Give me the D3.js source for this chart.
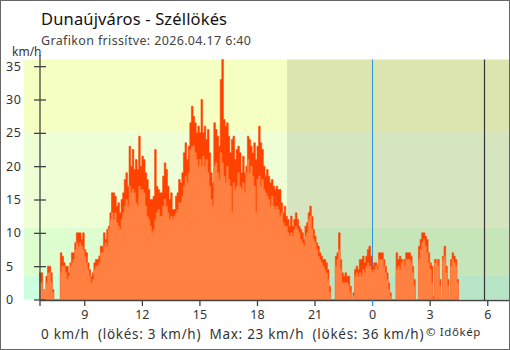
<!DOCTYPE html>
<html><head><meta charset="utf-8">
<script src="https://cdn.jsdelivr.net/npm/d3@7"></script>
<style>body{margin:0;background:#fff}svg{display:block}text{font-family:"Noto Sans",sans-serif}</style>
</head><body><svg id="c" width="510" height="350"></svg>
<script>
// ---- data (5-minute samples starting 2026-04-16 06:40) ----
const startTime = new Date(2026, 3, 16, 6, 40);
const stepMinutes = 5;
const avgWind = [
 2.5,2.5,1.5,0,
 2.5,4,4,2.5,1,0,0,0,0,4,5,5,
 4,3,3.5,5,5.5,6,7.5,8.5,8,8.5,8,7.5,
 6.5,5.5,4.5,3.5,2.5,3,4.5,5,5,5.5,7,7,
 8,8.5,8,10.5,12,13,12,13,11.5,11,10.5,12,
 13,14,15,14,17,16,16.5,16,14.5,14,17,16.5,
 16.5,16,14,12.5,12,11,10,10.5,12,13,13.5,12.5,
 12.5,14,15,14,13,12,12.5,12,12.5,13,13.5,14.5,
 14.5,15.5,17,18.5,17.5,19,22.5,23,23,22,21,20,
 21,20,21.5,20,21,19,17,15,14,20,20.5,19,
 18,22,20.5,18.5,17.5,20,18,17,13,17.5,16.5,17,
 19,17,16.5,17.5,16,19,21,19,20,18.5,17,13,
 18,18.5,17,18,16.5,16,15.5,15,14,15.5,14,13.5,
 14,13.5,12.5,13,11.5,11,11,10,9.5,10,9.5,10.5,
 11,10.5,10,9,8.5,8,9.5,10,12,12.5,10.5,9,
 8.5,7.5,6.5,6,5.5,5,4.5,4,3,1,0,0,
 0,5,6,7.5,4.5,2.5,2.5,2.5,2.5,2,1,0,
 0.5,3.5,4,3.5,4,3.5,4.5,4,5,5.5,5,4.5,
 4,4.5,5,4.5,6,6,6,5,4,3,1.5,0.5,
 0,0,0,4.5,5,4.5,5.5,6,5,6,6,6,
 5.5,4,2,0,0,6,7.5,8.5,9,8,7,5.5,
 4.5,2.5,0,5.5,6,5,2,0,6,6.5,4,2,
 0,5,6,5.5,5,2.5
];
const gustWind = [
 4,4,1.5,0,
 3.5,5,5,4,1.5,0,0,0,0,7,6.5,5.5,
 5,5,4,5.5,7,7,8.5,10,10,10,9,10,
 7.5,7,5.5,4.5,3.5,4,5.5,6,6,6.5,8,8,
 10,9,10.5,11,13,16,16,15.5,14,14.5,13,15,
 16,18,19,17,23,20,22.5,19.5,21,19.5,24.5,20,
 21.5,21,19,18,16.5,15,15,15.5,22.5,17,16.5,16,
 16,18.5,20.5,19.5,17,15,16,13.5,13.5,15.5,16,18,
 17.5,19,22,23.5,21,23,26.5,29,27.5,26.5,25,26,
 25,30,25,26,24,25.5,22,19,17.5,26.5,25.5,24.5,
 23,33,36,27,26,26.5,24.5,22,24,24.5,21,22.5,
 23,22,19,21.5,19,20,24.5,24,23,22,23.5,21,
 23,26,23.5,22.5,20,18.5,19.5,18.5,17.5,18,17,16.5,
 17,16.5,16.5,14.5,13,14,12.5,12,11,12.5,11,12,
 13,12,11,10.5,10,9,11,11.5,13,14,12.5,10.5,
 9.5,8.5,8,7,6.5,6,6,5.5,4.5,2,0,0,
 0,6.5,7,10,6,4,3.5,4,3.5,3.5,2,0,
 1,4.5,5,4.5,6,6,6.5,5.5,6.5,7.5,8,6.5,
 5,5.5,5.5,5,7,7,7,6,5,4,2.5,1,
 0,0,0,7,6,6.5,6,6,6,7,7,7,
 6.5,5,3,0,0,8,9,10,10,9.5,9,7,
 5.5,5,0.5,6,6,6,3,0,6.5,8,5,3,
 0,6,7,6.5,6,3
];
const yTicks = [0,5,10,15,20,25,30,35];
const bandLimits = [0, 3.6, 10.8, 25.2, 36];
const bandColors = ["#ccffdd","#ddffcf","#eeffd6","#f6ffc2"];
const domainStart = new Date(2026,3,16,6,40), domainEnd = new Date(2026,3,17,7,8);
const sunset = new Date(2026,3,16,19,34), midnight = new Date(2026,3,17,0,0), marker = new Date(2026,3,17,5,51);
const titleText = "Dunaújváros - Széllökés";
const subtitleText = "Grafikon frissítve: 2026.04.17 6:40";
const footerText = "0 km/h  (lökés: 3 km/h)  Max: 23 km/h  (lökés: 36 km/h)";

// ---- drawing ----
const svg = d3.select("#c");
const x = d3.scaleTime().domain([domainStart, domainEnd]).range([39.5, 509]);
const y = d3.scaleLinear().domain([0, 36]).range([299.5, 59.5]);
const plotLeft = 24, plotRight = 509;

svg.append("g").selectAll("rect").data(bandColors).join("rect")
  .attr("x", plotLeft).attr("width", plotRight - plotLeft)
  .attr("y", (d,i) => y(bandLimits[i+1])).attr("height", (d,i) => y(bandLimits[i]) - y(bandLimits[i+1]))
  .attr("fill", d => d);
svg.append("rect").attr("x", x(sunset)).attr("width", plotRight - x(sunset))
  .attr("y", y(36)).attr("height", y(0) - y(36)).attr("fill", "#000").attr("opacity", 0.1);

svg.append("line").attr("x1", Math.round(x(midnight))+0.5).attr("x2", Math.round(x(midnight))+0.5)
  .attr("y1", y(36)).attr("y2", 306).attr("stroke", "#2b95e0").attr("stroke-width", 1);

const mk = arr => { const pts = arr.map((v,i) => ({t: d3.timeMinute.offset(startTime, i*stepMinutes), v}));
  pts.push({t: d3.timeMinute.offset(startTime, arr.length*stepMinutes), v: arr[arr.length-1]}); return pts; };
const area = d3.area().curve(d3.curveStepAfter).x(d => x(d.t)).y0(y(0)).y1(d => y(d.v));
svg.append("path").datum(mk(gustWind)).attr("d", area).attr("fill", "#ff4200").attr("stroke","#ff4200").attr("stroke-width",0.6);
svg.append("path").datum(mk(avgWind)).attr("d", area).attr("fill", "#ff8040").attr("stroke","#ff8040").attr("stroke-width",0.6);

svg.append("line").attr("x1", Math.round(x(marker))+0.5).attr("x2", Math.round(x(marker))+0.5)
  .attr("y1", y(36)).attr("y2", 300).attr("stroke", "#333").attr("stroke-width", 1.2);

// axes
const axisColor = "#444";
const xAxis = svg.append("g").attr("transform", "translate(0,300)")
  .call(d3.axisBottom(x).ticks(d3.timeHour.every(3)).tickFormat(d3.timeFormat("%-H")).tickSize(6).tickSizeOuter(0));
xAxis.select(".domain").attr("stroke", axisColor).attr("stroke-width", 1.3);
xAxis.selectAll(".tick line").attr("stroke", d => +d === +midnight ? "#2b95e0" : axisColor).attr("stroke-width", 1.3);
xAxis.selectAll(".tick text").attr("fill", "#333").attr("font-size", 12.5).attr("font-family", "Noto Sans").attr("dy", null).attr("y", 19);

svg.append("line").attr("x1", 40).attr("x2", 40).attr("y1", 55).attr("y2", 306).attr("stroke", axisColor).attr("stroke-width", 1.3);
const yAxis = svg.append("g").attr("transform", "translate(46,0)")
  .call(d3.axisLeft(y).tickValues(yTicks).tickSize(12));
yAxis.select(".domain").remove();
yAxis.selectAll(".tick line").attr("stroke", axisColor).attr("stroke-width", 1.3);
yAxis.selectAll(".tick text").attr("x", -40).attr("text-anchor", "start").attr("fill", "#333")
  .attr("font-size", 12.5).attr("font-family", "Noto Sans").attr("letter-spacing", 0.6);

// texts
svg.append("text").attr("x", 41).attr("y", 24.5).attr("font-size", 16.5).attr("fill", "#111").attr("letter-spacing", 0.15).text(titleText);
svg.append("text").attr("x", 41).attr("y", 45).attr("font-size", 12.5).attr("fill", "#444").attr("letter-spacing", 0.35).text(subtitleText);
svg.append("text").attr("x", 12).attr("y", 55.5).attr("font-size", 12).attr("fill", "#333").text("km/h");
svg.append("text").attr("x", 41).attr("y", 338.5).attr("font-size", 13.5).attr("fill", "#333").attr("letter-spacing", 0.7)
  .attr("xml:space","preserve").style("white-space","pre").text(footerText);
svg.append("text").attr("x", 426).attr("y", 336).attr("font-size", 11.5).attr("fill", "#333").attr("letter-spacing", 0.6).text("© Időkép");

svg.append("rect").attr("x", 0.5).attr("y", 0.5).attr("width", 509).attr("height", 349)
  .attr("fill", "none").attr("stroke", "#666");
</script></body></html>
